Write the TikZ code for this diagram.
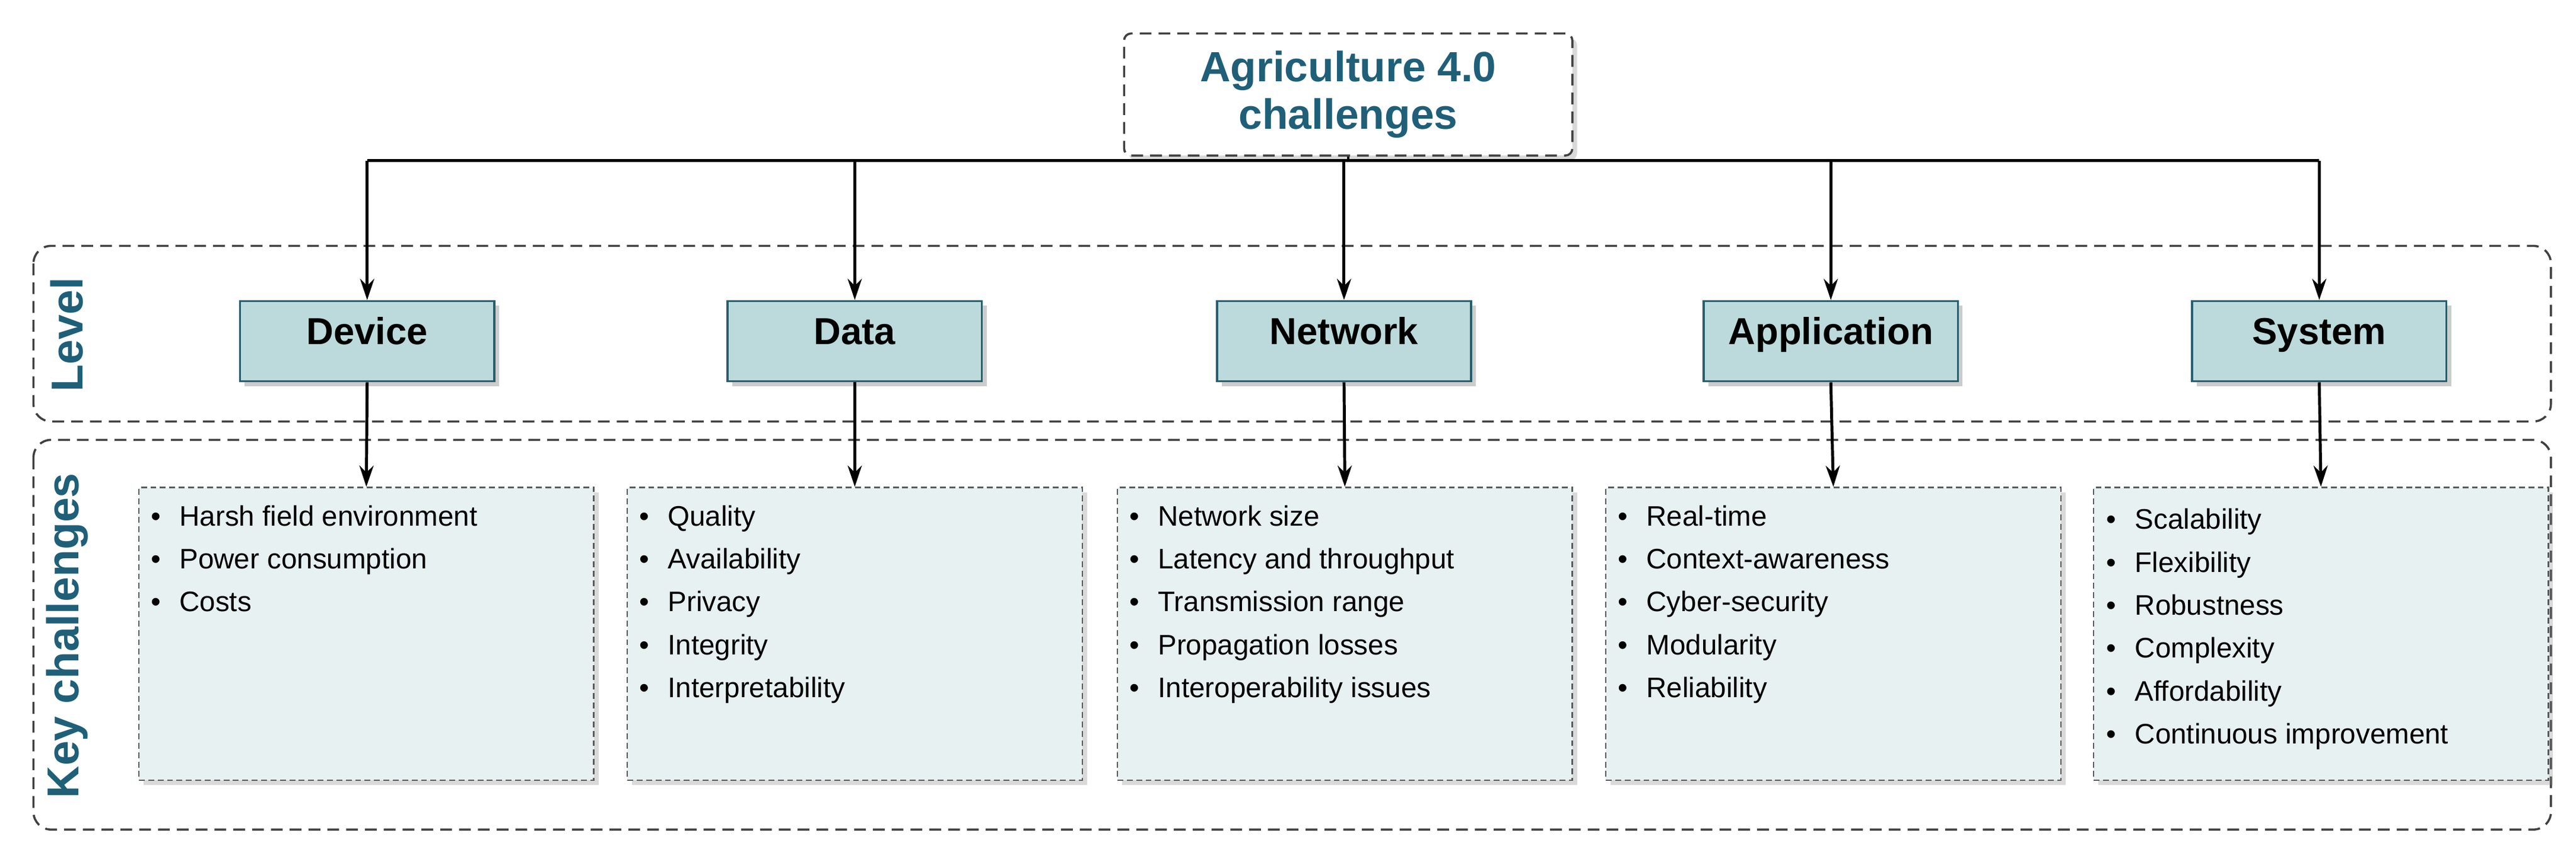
\documentclass[tikz,border=0pt]{standalone}
\usepackage{fontspec}
\setmainfont{Liberation Sans}
\usetikzlibrary{shadows,arrows.meta}
\definecolor{teal1}{HTML}{1F5F78}
\definecolor{lvfill}{HTML}{BCDADB}
\definecolor{lvborder}{HTML}{285F6E}
\definecolor{chfill}{HTML}{E8F1F2}
\begin{document}
\begin{tikzpicture}[x=0.05cm,y=-0.05cm,
  lvbox/.style={draw=lvborder,line width=1.8pt,fill=lvfill,minimum width=7.6cm,minimum height=2.4cm,text height=0.75em,text depth=0.2em,font=\fontsize{32}{36}\selectfont\bfseries,drop shadow={shadow xshift=4pt,shadow yshift=-4pt,opacity=.4}},
  chbox/.style={draw=gray!70!black,dash pattern=on 5pt off 3pt,line width=1.3pt,fill=chfill,minimum width=13.6cm,minimum height=8.75cm,drop shadow={shadow xshift=4pt,shadow yshift=-4pt,opacity=.3}},
  group/.style={draw=black!75,dash pattern=on 10pt off 6pt,line width=1.8pt,rounded corners=15pt},
  conn/.style={line width=2.5pt,-{Stealth[length=18pt,width=12pt]}},
  lbl/.style={text=teal1,font=\fontsize{38}{42}\selectfont\bfseries,rotate=90},
  items/.style={anchor=north west,align=left,font=\fontsize{24}{36.5}\selectfont,inner sep=0pt}]
\useasboundingbox (0,0) rectangle (1540,511);
\draw[group] (20,147) rectangle (1525,252);
\draw[group] (20,263) rectangle (1525,496);
\node[lbl] (lvl) at (40,200) {Level};
\node[lbl] (kc) at (40,380) {Key challenges};
\node[draw=black!75,dash pattern=on 10pt off 6pt,line width=1.8pt,rounded corners=6pt,minimum width=13.4cm,minimum height=3.65cm,align=center,text=teal1,font=\fontsize{36}{40}\selectfont\bfseries,fill=white,drop shadow={shadow xshift=4pt,shadow yshift=-4pt,opacity=.3}] (top) at (806,56.5) {Agriculture 4.0\\challenges};
\coordinate (hub) at (806,96);
\foreach \n/\x/\t in {dev/219.5/Device,dat/511/Data,net/803.5/Network,app/1094.5/Application,sys/1386.5/System}{
  \node[lvbox] (\n) at (\x,204) {\t};
  \coordinate (\n h) at (\x,96);
}
\draw[line width=2.5pt] (top.south) -- (hub);
\draw[line width=2.5pt] (devh) -- (sysh);
\foreach \n in {dev,dat,net,app,sys}{\draw[conn] (\n h) -- (\n.north);}
\foreach \n/\x in {dev/219,dat/511,net/804,app/1096,sys/1387.5}{
  \node[chbox] (\n c) at (\x,379) {};
  \draw[conn] (\n.south) -- (\n c.north);
}
\newcommand\bl{\textbullet\hspace{16pt}}
\node[items] (i1) at (90,302) {\bl Harsh field environment\\\bl Power consumption\\\bl Costs};
\node[items] (i2) at (382,302) {\bl Quality\\\bl Availability\\\bl Privacy\\\bl Integrity\\\bl Interpretability};
\node[items] (i3) at (675,302) {\bl Network size\\\bl Latency and throughput\\\bl Transmission range\\\bl Propagation losses\\\bl Interoperability issues};
\node[items] (i4) at (967,302) {\bl Real-time\\\bl Context-awareness\\\bl Cyber-security\\\bl Modularity\\\bl Reliability};
\node[items] (i5) at (1259,304) {\bl Scalability\\\bl Flexibility\\\bl Robustness\\\bl Complexity\\\bl Affordability\\\bl Continuous improvement};
\end{tikzpicture}
\end{document}
